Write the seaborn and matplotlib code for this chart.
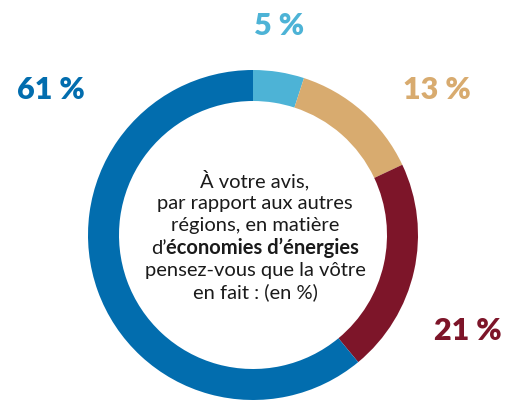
import matplotlib
matplotlib.use("Agg")
import matplotlib.pyplot as plt
import seaborn as sns

# Data
categories = ["Mieux", "Plutôt mieux", "Moins bien", "Pareil"]
values = [5, 13, 21, 61]
labels = ["5 %", "13 %", "21 %", "61 %"]
colors = ["#4DB3D6", "#D8AB6F", "#7D1529", "#026DAE"]

sns.set_theme(style="white")
plt.rcParams['font.family'] = ['Lato', 'DejaVu Sans']

W, H = 517, 400
fig = plt.figure(figsize=(W / 100, H / 100), dpi=100)
ax = fig.add_axes([0, 0, 1, 1])

cx, cy, R = 253, H - 235, 165
ax.pie(values, colors=colors, startangle=90, counterclock=False,
       center=(cx, cy), radius=R, frame=True,
       wedgeprops=dict(width=31, edgecolor='none'))
ax.set_xlim(0, W)
ax.set_ylim(0, H)
ax.set_aspect('equal')
ax.axis('off')

label_pos = [(279, 26), (437, 90), (468, 331), (51, 90)]
for lab, col, (x, y) in zip(labels, colors, label_pos):
    ax.text(x, H - y, lab, color=col, fontsize=22, fontweight='heavy',
            ha='center', va='center')

tc = "#1a1a1a"
fs = 14.5
lines = ["À votre avis,", "par rapport aux autres", "régions, en matière",
         None, "pensez-vous que la vôtre", "en fait : (en %)"]
y0 = 187
dy = 22.2
tx = 255
for i, ln in enumerate(lines):
    y = H - (y0 + i * dy)
    if ln is not None:
        ax.text(tx, y, ln, fontsize=fs, color=tc, ha='center', va='baseline')

# mixed line
y = H - (y0 + 3 * dy)
fig.canvas.draw()
r = fig.canvas.get_renderer()
t1 = ax.text(0, y, "d’", fontsize=fs, color=tc, ha='left', va='baseline')
t2 = ax.text(0, y, "économies d’énergies", fontsize=fs, color=tc,
             fontweight='bold', ha='left', va='baseline')
w1 = t1.get_window_extent(r).width
w2 = t2.get_window_extent(r).width
start = tx - (w1 + w2) / 2
t1.set_x(start)
t2.set_x(start + w1)

fig.savefig("out.png", dpi=100)
